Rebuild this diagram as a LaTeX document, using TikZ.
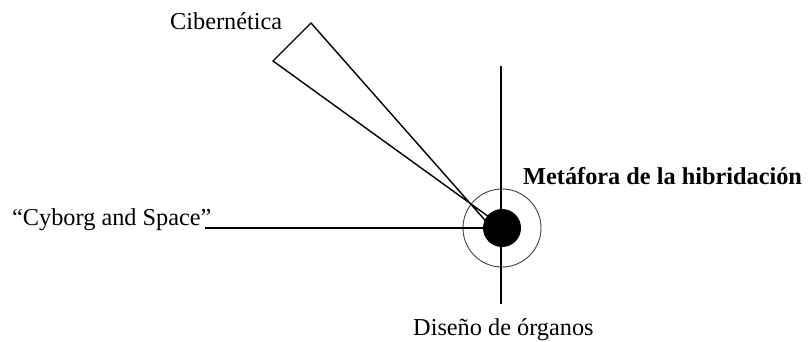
\documentclass[tikz,border=0pt]{standalone}
\usepackage{fontspec}
\setmainfont{Liberation Serif}
\begin{document}
\begin{tikzpicture}[x=1pt,y=-1pt,
  lbl/.style={inner sep=0pt,font=\fontsize{24.3}{29}\selectfont},
  ln/.style={line width=1.4pt},
  thin ring/.style={draw=black!75,line width=0.9pt}]
\useasboundingbox (0,0) rectangle (808,341);
% coordinates
\coordinate (c) at (502,228);
\coordinate (apexA) at (311,23);
\coordinate (apexB) at (273,61);
\coordinate (endA) at (491,227);
\coordinate (endB) at (496,222);
\coordinate (vtop) at (501,66);
\coordinate (vbot) at (501,304);
\coordinate (hstart) at (205,228);
% labels
\node[lbl,anchor=base west] (ciber) at (170,29) {Cibernética};
\node[lbl,anchor=base west] (cyb) at (12,225) {“Cyborg and Space”};
\node[lbl,anchor=base west,font=\fontsize{24.3}{29}\selectfont\bfseries] (meta) at (523,184) {Metáfora de la hibridación};
\node[lbl,anchor=base west] (dis) at (413,335) {Diseño de órganos};
% rings
\node[circle,thin ring,minimum size=78pt,inner sep=0pt] (ring) at (c) {};
% connectors
\draw[ln] (vtop) -- (vbot);
\draw[ln] (hstart) -- (c);
\draw[ln,line join=miter] (endA) -- (apexA) -- (apexB) -- (endB);
% dot
\node[circle,fill=black,minimum size=38pt,inner sep=0pt] (dot) at (c) {};
\end{tikzpicture}
\end{document}
